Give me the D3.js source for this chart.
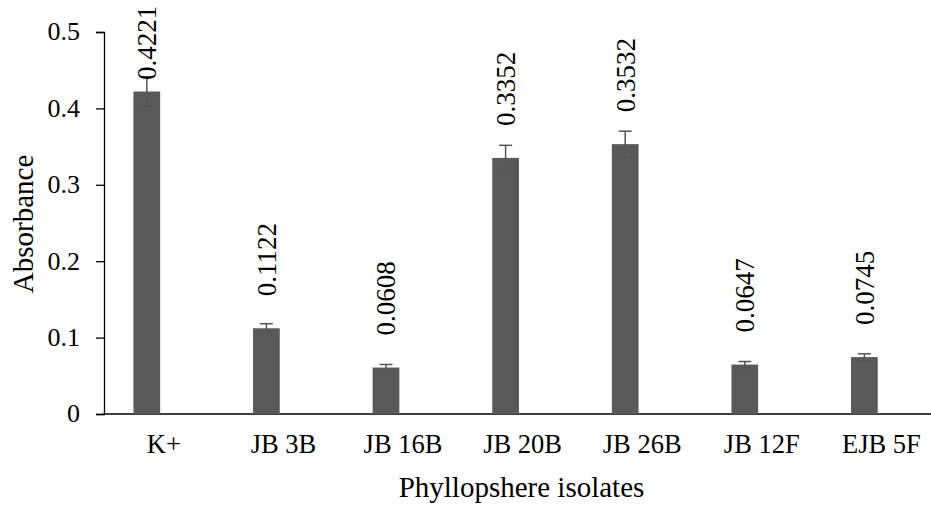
<!DOCTYPE html>
<html>
<head>
<meta charset="utf-8">
<script src="https://cdn.jsdelivr.net/npm/d3@7"></script>
<style>
  body { margin: 0; background: #fff; }
</style>
</head>
<body>
<div id="chart"></div>
<script>
// Chart data
var categories = ["K+", "JB 3B", "JB 16B", "JB 20B", "JB 26B", "JB 12F", "EJB 5F"]
var absorbance = [0.4221, 0.1122, 0.0608, 0.3352, 0.3532, 0.0647, 0.0745]
var errors = [0.019, 0.006, 0.004, 0.0165, 0.017, 0.004, 0.0043]
var labels = ["0.4221", "0.1122", "0.0608", "0.3352", "0.3532", "0.0647", "0.0745"]
var yTicks = [0, 0.1, 0.2, 0.3, 0.4, 0.5]

var width = 931, height = 505
var barColor = "#595959"
var serif = "'Liberation Serif', 'Times New Roman', Times, serif"

var svg = d3.select("#chart")
  .append("svg")
    .attr("width", width)
    .attr("height", height)
    .style("font-family", serif)

// Scales - plot area runs past the right edge of the picture
var x = d3.scaleBand()
  .domain(categories)
  .range([104, 104 + 119.6 * categories.length])

// bars sit left of the category centre (empty second series slot)
var barW = 26.7
var barShift = -17
function barCenter(c) { return x(c) + x.bandwidth() / 2 + barShift }

var y = d3.scaleLinear()
  .domain([0, 0.5])
  .range([414, 32])

// Y axis
var yAxis = svg.append("g")
  .attr("transform", "translate(104,0)")
  .call(d3.axisLeft(y).tickValues(yTicks).tickSize(8).tickPadding(16)
    .tickFormat(function(d) { return d === 0 ? "0" : d3.format(".1f")(d) }))
yAxis.attr("font-family", null).attr("font-size", null)
yAxis.select(".domain").attr("stroke", "#000").attr("stroke-width", 1.3)
yAxis.selectAll(".tick line").attr("stroke", "#000").attr("stroke-width", 1.3)
yAxis.selectAll(".tick text")
  .style("font-family", serif)
  .style("font-size", "26px")
  .attr("fill", "#000")
  .attr("dy", "0.3em")

// X axis line
svg.append("line")
  .attr("x1", 103).attr("x2", width)
  .attr("y1", y(0)).attr("y2", y(0))
  .attr("stroke", "#000")
  .attr("stroke-width", 1.5)

// Category labels
svg.append("g")
  .selectAll("text")
  .data(categories)
  .enter()
  .append("text")
    .attr("x", function(d) { return x(d) + x.bandwidth() / 2 })
    .attr("y", 453)
    .attr("text-anchor", "middle")
    .style("font-family", serif)
    .style("font-size", "26.5px")
    .text(function(d) { return d })

// Bars
var rows = categories.map(function(c, i) {
  return { cat: c, v: absorbance[i], err: errors[i], label: labels[i] }
})

svg.append("g")
  .selectAll("rect")
  .data(rows)
  .enter()
  .append("rect")
    .attr("x", function(d) { return barCenter(d.cat) - barW / 2 })
    .attr("y", function(d) { return y(d.v) })
    .attr("width", barW)
    .attr("height", function(d) { return y(0) - y(d.v) })
    .attr("fill", barColor)

// Error bars
var eb = svg.append("g")
  .selectAll("g")
  .data(rows)
  .enter()
  .append("g")
    .attr("stroke", "#555")
    .attr("stroke-width", 1.5)
eb.append("line")
  .attr("x1", function(d) { return barCenter(d.cat) })
  .attr("x2", function(d) { return barCenter(d.cat) })
  .attr("y1", function(d) { return y(d.v - d.err) })
  .attr("y2", function(d) { return y(d.v + d.err) })
eb.selectAll(".cap")
  .data(function(d) { return [d.v - d.err, d.v + d.err].map(function(e) { return { cat: d.cat, e: e } }) })
  .enter()
  .append("line")
    .attr("class", "cap")
    .attr("x1", function(d) { return barCenter(d.cat) - 6.5 })
    .attr("x2", function(d) { return barCenter(d.cat) + 6.5 })
    .attr("y1", function(d) { return y(d.e) })
    .attr("y2", function(d) { return y(d.e) })

// Value labels (rotated)
svg.append("g")
  .selectAll("text")
  .data(rows)
  .enter()
  .append("text")
    .attr("transform", function(d) {
      var cx = barCenter(d.cat)
      var cy = Math.max(y(d.v) - 32, 80)
      return "translate(" + cx + "," + cy + ") rotate(-90)"
    })
    .attr("dy", "0.35em")
    .style("font-family", serif)
    .style("font-size", "27px")
    .text(function(d) { return d.label })

// Axis titles
svg.append("text")
  .attr("transform", "translate(33,224) rotate(-90)")
  .attr("text-anchor", "middle")
  .style("font-family", serif)
  .style("font-size", "29px")
  .text("Absorbance")

svg.append("text")
  .attr("x", 521.5)
  .attr("y", 497)
  .attr("text-anchor", "middle")
  .style("font-family", serif)
  .style("font-size", "29px")
  .text("Phyllopshere isolates")
</script>
</body>
</html>
